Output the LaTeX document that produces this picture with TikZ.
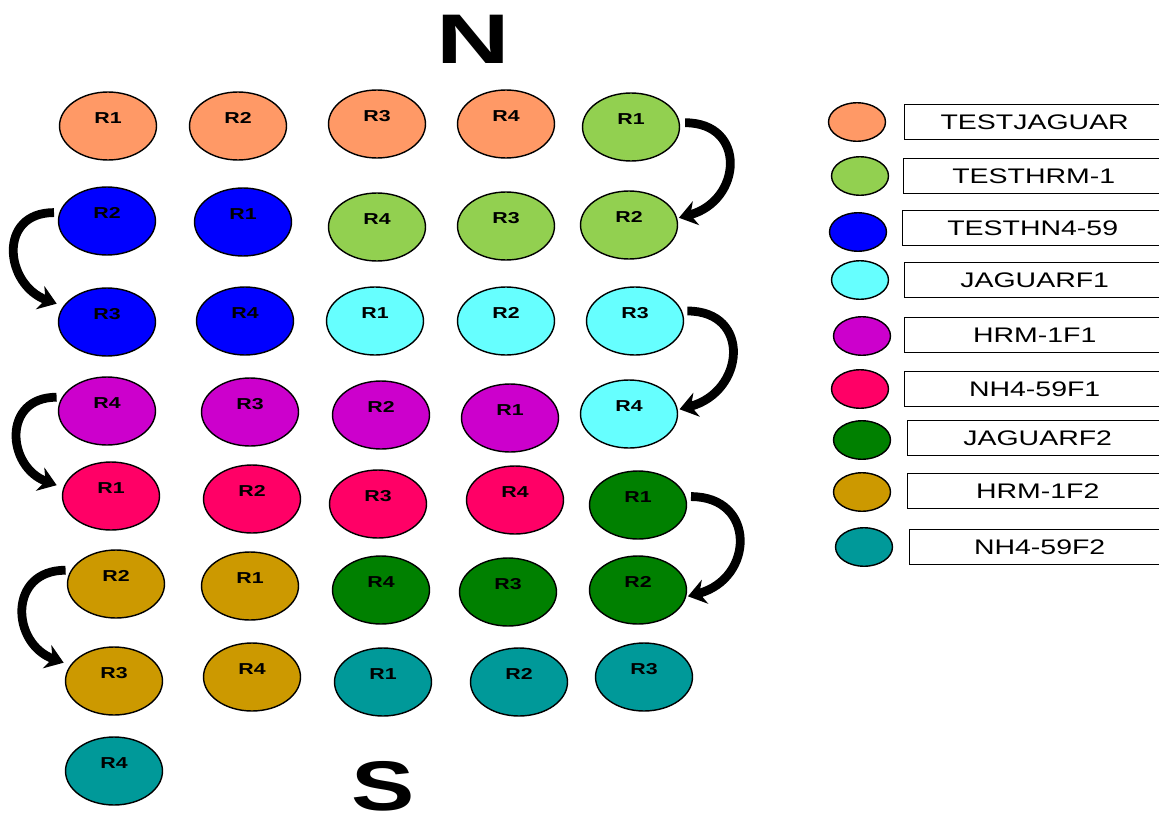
\documentclass[tikz,border=0pt]{standalone}
\usepackage{fontspec}
\usepackage{graphicx}
\newfontfamily\arial{Liberation Sans}
\definecolor{jaguar}{RGB}{255,153,102}
\definecolor{hrm}{RGB}{146,208,80}
\definecolor{nhblue}{RGB}{0,0,255}
\definecolor{jagfa}{RGB}{102,255,255}
\definecolor{hrmfa}{RGB}{204,0,204}
\definecolor{nhfa}{RGB}{255,0,102}
\definecolor{jagfb}{RGB}{0,128,0}
\definecolor{hrmfb}{RGB}{204,153,0}
\definecolor{nhfb}{RGB}{0,153,153}
\usetikzlibrary{shapes.geometric,arrows.meta}
\newcommand{\wide}[1]{\scalebox{1.35}[1]{#1}}

\begin{document}
\begin{tikzpicture}[
  x=0.02cm,y=0.02cm,
  plotcell/.style={ellipse,draw=black,line width=0.8pt,minimum width=1.94cm,
                   minimum height=1.36cm,inner sep=0pt,
                   font=\arial\bfseries\fontsize{9}{10}\selectfont,
                   text height=6.5pt,text depth=9pt},
  swatch/.style={ellipse,draw=black,line width=0.8pt,minimum width=1.14cm,
                 minimum height=0.77cm,inner sep=0pt},
  legbox/.style={rectangle,draw=black,line width=0.8pt,minimum width=5.2cm,
                 minimum height=0.7cm,anchor=west,
                 font=\arial\fontsize{12}{14}\selectfont},
  turn/.style={-{Stealth[length=10pt,width=14pt]},line width=5pt,shorten <=3pt},
  pole/.style={font=\arial\bfseries\fontsize{40}{44}\selectfont,anchor=base,inner sep=0pt}
]
  \clip (0,0) rectangle (1159,-818);

  \node[pole] (north) at (473,-63) {\scalebox{1.45}[1]{N}};
  \node[pole] (south) at (383,-810) {\wide{S}};

  % plots, row by row
  \node[plotcell,fill=jaguar] (or1) at (108,-126) {\wide{R1}};
  \node[plotcell,fill=jaguar] (or2) at (238,-126) {\wide{R2}};
  \node[plotcell,fill=jaguar] (or3) at (377,-124) {\wide{R3}};
  \node[plotcell,fill=jaguar] (or4) at (506,-124) {\wide{R4}};
  \node[plotcell,fill=hrm] (lg1) at (631,-127) {\wide{R1}};

  \node[plotcell,fill=nhblue] (bl2) at (107,-221) {\wide{R2}};
  \node[plotcell,fill=nhblue] (bl1) at (243,-222) {\wide{R1}};
  \node[plotcell,fill=hrm] (lg4) at (377,-227) {\wide{R4}};
  \node[plotcell,fill=hrm] (lg3) at (506,-226) {\wide{R3}};
  \node[plotcell,fill=hrm] (lg2) at (629,-225) {\wide{R2}};

  \node[plotcell,fill=nhblue] (bl3) at (107,-322) {\wide{R3}};
  \node[plotcell,fill=nhblue] (bl4) at (245,-321) {\wide{R4}};
  \node[plotcell,fill=jagfa] (cy1) at (375,-321) {\wide{R1}};
  \node[plotcell,fill=jagfa] (cy2) at (506,-321) {\wide{R2}};
  \node[plotcell,fill=jagfa] (cy3) at (635,-321) {\wide{R3}};

  \node[plotcell,fill=hrmfa] (mg4) at (107,-411) {\wide{R4}};
  \node[plotcell,fill=hrmfa] (mg3) at (250,-412) {\wide{R3}};
  \node[plotcell,fill=hrmfa] (mg2) at (381,-415) {\wide{R2}};
  \node[plotcell,fill=hrmfa] (mg1) at (510,-418) {\wide{R1}};
  \node[plotcell,fill=jagfa] (cy4) at (629,-414) {\wide{R4}};

  \node[plotcell,fill=nhfa] (pk1) at (111,-496) {\wide{R1}};
  \node[plotcell,fill=nhfa] (pk2) at (252,-499) {\wide{R2}};
  \node[plotcell,fill=nhfa] (pk3) at (378,-504) {\wide{R3}};
  \node[plotcell,fill=nhfa] (pk4) at (515,-500) {\wide{R4}};
  \node[plotcell,fill=jagfb] (dg1) at (638,-505) {\wide{R1}};

  \node[plotcell,fill=hrmfb] (gd2) at (116,-584) {\wide{R2}};
  \node[plotcell,fill=hrmfb] (gd1) at (250,-586) {\wide{R1}};
  \node[plotcell,fill=jagfb] (dg4) at (381,-590) {\wide{R4}};
  \node[plotcell,fill=jagfb] (dg3) at (508,-592) {\wide{R3}};
  \node[plotcell,fill=jagfb] (dg2) at (638,-590) {\wide{R2}};

  \node[plotcell,fill=hrmfb] (gd3) at (114,-681) {\wide{R3}};
  \node[plotcell,fill=hrmfb] (gd4) at (252,-677) {\wide{R4}};
  \node[plotcell,fill=nhfb] (tl1) at (383,-682) {\wide{R1}};
  \node[plotcell,fill=nhfb] (tl2) at (519,-682) {\wide{R2}};
  \node[plotcell,fill=nhfb] (tl3) at (644,-677) {\wide{R3}};

  \node[plotcell,fill=nhfb] (tl4) at (114,-771) {\wide{R4}};

  % turns between rows
  \draw[turn,shorten >=4pt] (bl2.170) to[out=180,in=160,looseness=1.7] (bl3.160);
  \draw[turn,shorten >=4pt] (mg4.163) to[out=180,in=160,looseness=1.7] (pk1.170);
  \draw[turn,shorten >=4pt] (gd2.163) to[out=180,in=160,looseness=1.7] (gd3.160);
  \draw[turn,shorten >=1pt] (lg1.5) to[out=0,in=15,looseness=1.8] (lg2.8);
  \draw[turn,shorten >=1pt] (cy3.12) to[out=0,in=15,looseness=1.8] (cy4.5);
  \draw[turn,shorten >=1pt] (dg1.10) to[out=0,in=15,looseness=1.8] (dg2.-8);

  % legend
  \node[swatch,fill=jaguar] (k1) at (857,-122) {};
  \node[legbox] (t1) at (904,-122) {\wide{TESTJAGUAR}};
  \node[swatch,fill=hrm] (k2) at (860,-176) {};
  \node[legbox] (t2) at (903,-176) {\wide{TESTHRM-1}};
  \node[swatch,fill=nhblue] (k3) at (858,-232) {};
  \node[legbox] (t3) at (902,-228) {\wide{TESTHN4-59}};
  \node[swatch,fill=jagfa] (k4) at (860,-280) {};
  \node[legbox] (t4) at (904,-280) {\wide{JAGUARF1}};
  \node[swatch,fill=hrmfa] (k5) at (862,-336) {};
  \node[legbox] (t5) at (904,-335) {\wide{HRM-1F1}};
  \node[swatch,fill=nhfa] (k6) at (860,-389) {};
  \node[legbox] (t6) at (904,-389) {\wide{NH4-59F1}};
  \node[swatch,fill=jagfb] (k7) at (862,-440) {};
  \node[legbox] (t7) at (907,-438) {\wide{JAGUARF2}};
  \node[swatch,fill=hrmfb] (k8) at (862,-492) {};
  \node[legbox] (t8) at (907,-491) {\wide{HRM-1F2}};
  \node[swatch,fill=nhfb] (k9) at (864,-547) {};
  \node[legbox] (t9) at (909,-547) {\wide{NH4-59F2}};
\end{tikzpicture}
\end{document}
